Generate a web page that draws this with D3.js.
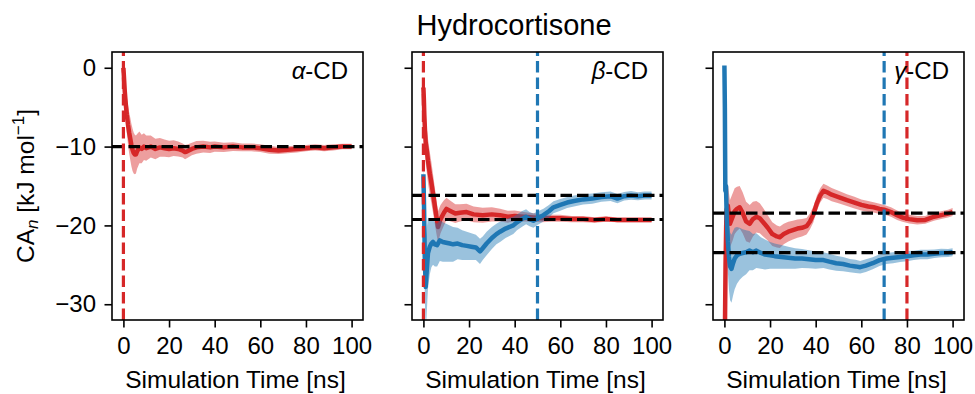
<!DOCTYPE html>
<html>
<head>
<meta charset="utf-8">
<script src="https://cdn.jsdelivr.net/npm/d3@7"></script>
<style>
  body { margin: 0; background: #fff; }
  text { font-family: "Liberation Sans", Arial, sans-serif; }
</style>
</head>
<body>
<div id="chart"></div>
<script>
// panel names
var panelNames = ["α", "β", "γ"];

// alpha-CD, red series
var aRedT = [0, 0.3, 0.6, 1, 1.5, 2, 2.5, 3, 3.5, 4, 4.5, 5, 5.5, 6, 7, 8, 9, 10, 12, 14, 16, 18, 20, 22, 24, 26, 27, 28, 30, 32, 35, 38, 40, 44, 48, 52, 56, 60, 64, 68, 72, 76, 80, 84, 88, 92, 96, 100];
var aRedV = [0, -1.5, -3, -4.5, -6, -7.2, -8.2, -9, -9.8, -10.4, -10.8, -11, -11, -10.6, -10.1, -10.3, -10, -10.2, -10, -10.3, -10.1, -10.2, -10.3, -10.2, -10.3, -10.5, -10.7, -10.6, -10.3, -10.1, -10, -10.1, -10, -10.1, -10, -10.1, -10.1, -10.2, -10.4, -10.5, -10.4, -10.3, -10.2, -10.1, -10.2, -10.1, -10, -10];
var aRedE = [0.5, 1, 1.5, 2, 2.3, 2.5, 2.6, 2.7, 2.7, 2.7, 2.6, 2.5, 2.4, 2.2, 2, 1.8, 1.7, 1.6, 1.4, 1.3, 1.2, 1.1, 1.05, 1, 0.95, 0.9, 0.9, 0.85, 0.8, 0.8, 0.75, 0.7, 0.65, 0.6, 0.55, 0.5, 0.5, 0.5, 0.5, 0.45, 0.45, 0.45, 0.4, 0.4, 0.4, 0.4, 0.35, 0.35];

// beta-CD, red series
var bRedT = [0, 0.2, 0.4, 0.7, 1, 1.5, 2, 2.8, 3.5, 4.5, 5.5, 6.4, 7.5, 9, 10.1, 12, 14, 16, 18.9, 22, 26, 30, 33.6, 37, 40, 44, 48.2, 52, 56, 59.9, 65, 70, 75, 80, 85, 90, 95, 100];
var bRedV = [-2.5, -4, -6, -8, -9.5, -10.5, -11.8, -13.4, -14.6, -16.5, -18.5, -20.2, -19.2, -18.4, -17.9, -18.2, -18.5, -18.4, -18.3, -18.6, -18.7, -18.6, -18.7, -18.9, -18.8, -18.9, -19, -19.1, -19.1, -19.1, -19.2, -19.2, -19.3, -19.2, -19.3, -19.3, -19.3, -19.3];
var bRedE = [1, 1.5, 2, 2.4, 2.6, 2.8, 2.8, 2.7, 2.6, 2.4, 2.2, 2, 1.8, 1.6, 1.4, 1.3, 1.2, 1.1, 1.05, 1, 0.95, 0.9, 0.8, 0.75, 0.7, 0.6, 0.55, 0.5, 0.45, 0.45, 0.4, 0.4, 0.35, 0.35, 0.3, 0.3, 0.3, 0.3];

// beta-CD, blue series
var bBlueT = [0, 0.3, 0.6, 1, 1.4, 2, 2.8, 3.5, 4.2, 5, 6, 7.2, 8.5, 10, 11.6, 13, 15, 17, 19, 21, 23, 24.8, 26, 27.7, 30, 32, 33.6, 36, 39.4, 41, 43.1, 45, 46.5, 48.2, 50, 52.6, 55, 57, 60, 63, 66, 70, 74, 78, 82, 85, 88, 91, 94, 97, 100];
var bBlueV = [-13.5, -18, -24, -27.8, -26, -23.5, -22.7, -22.3, -22.1, -22.4, -22.5, -21.9, -22.1, -22.2, -22.3, -22.4, -22.3, -22.5, -22.6, -22.7, -22.8, -23.3, -22.9, -22.3, -21.6, -21.1, -20.8, -20.4, -20, -19.6, -19.2, -18.9, -19.2, -19.4, -19.1, -18.7, -18.2, -17.7, -17.4, -17.1, -16.9, -16.7, -16.6, -16.4, -16.3, -16.6, -16.3, -16.2, -16.3, -16.2, -16.2];
var bBlueE = [1, 3, 5, 6, 5.5, 4.5, 3.5, 3, 2.9, 2.8, 2.7, 2.6, 2.5, 2.4, 2.3, 2.2, 2, 1.9, 1.8, 1.7, 1.6, 1.6, 1.5, 1.5, 1.4, 1.3, 1.3, 1.2, 1.1, 1, 1, 0.95, 0.9, 0.9, 0.85, 0.8, 0.8, 0.75, 0.75, 0.7, 0.7, 0.65, 0.65, 0.6, 0.6, 0.6, 0.55, 0.55, 0.5, 0.5, 0.5];

// gamma-CD, red series
var gRedT = [0, 0.5, 0.9, 1.5, 2.4, 3.5, 4.5, 5.5, 6.7, 8, 9.5, 11.1, 12.5, 14, 15.5, 17, 19, 21, 23, 24.3, 26, 28, 30, 32, 34, 36, 37.5, 39, 40.5, 42, 43.4, 45, 47, 50, 53.7, 57, 60, 63, 65.4, 68, 70, 73, 75.7, 78, 81, 84.5, 88, 91.8, 95, 98, 100];
var gRedV = [-40, -25, -18, -17.5, -19.8, -19, -18.2, -17.9, -17.7, -18.4, -19.5, -19.8, -19.2, -18.9, -19.1, -19.6, -20.3, -21.1, -21.4, -21.5, -21.1, -20.8, -20.6, -20.4, -20.3, -20.1, -19.5, -18.6, -17.2, -16.2, -15.6, -15.8, -16.1, -16.4, -16.8, -17.1, -17.4, -17.6, -17.7, -17.9, -18, -18.3, -18.7, -19, -19.2, -19.35, -19.3, -18.9, -18.7, -18.5, -18.3];
var gRedE = [1, 2, 2.5, 2.8, 3, 3, 2.9, 2.8, 2.7, 2.6, 2.5, 2.4, 2.2, 2, 1.9, 1.8, 1.6, 1.5, 1.4, 1.35, 1.3, 1.25, 1.2, 1.15, 1.1, 1.05, 1, 1, 0.95, 0.9, 0.9, 0.85, 0.85, 0.8, 0.75, 0.75, 0.7, 0.7, 0.65, 0.65, 0.6, 0.6, 0.6, 0.55, 0.55, 0.55, 0.5, 0.5, 0.5, 0.5, 0.5];

// gamma-CD, blue series
var gBlueT = [0, 0.2, 0.4, 0.7, 1, 1.5, 2, 2.5, 3.1, 3.8, 4.5, 5.5, 6.7, 8, 9.5, 11, 12.5, 14, 16, 17.8, 20, 22, 25, 28, 31, 34, 37, 40, 43.4, 46, 49, 52, 55, 57.5, 59.5, 62, 65, 68, 71, 74, 77, 80, 83, 86, 89, 92, 95, 98, 100];
var gBlueV = [0.3, -5, -15.6, -15, -19, -22, -24, -25.2, -25.5, -24.8, -24.2, -23.8, -23.6, -23.5, -23.4, -23.2, -23.4, -23.2, -23.5, -23.7, -23.8, -23.9, -24, -24.1, -24.2, -24.2, -24.3, -24.4, -24.4, -24.6, -24.8, -24.9, -25.1, -25.2, -25.3, -25.1, -24.8, -24.4, -24.2, -24.1, -24, -23.9, -23.8, -23.7, -23.7, -23.6, -23.5, -23.5, -23.4];
var gBlueE = [0.5, 1, 1.5, 2, 3, 3.8, 4.2, 4.3, 4.3, 4.1, 3.9, 3.6, 3.3, 3, 2.8, 2.5, 2.3, 2.2, 2, 1.9, 1.7, 1.6, 1.5, 1.4, 1.3, 1.2, 1.15, 1.1, 1, 1, 0.95, 0.9, 0.85, 0.85, 0.8, 0.8, 0.75, 0.75, 0.7, 0.7, 0.65, 0.65, 0.6, 0.6, 0.6, 0.55, 0.55, 0.5, 0.5];

// reference lines (black dashed) and marked times (coloured dashed)
var aRefY = [-10], bRefY = [-16.2, -19.25], gRefY = [-18.45, -23.45];
var aMarkT = [0], aMarkC = ["red"];
var bMarkT = [0, 50], bMarkC = ["red", "blue"];
var gMarkT = [70, 80], gMarkC = ["blue", "red"];

var xTicks = [0, 20, 40, 60, 80, 100];
var yTicks = [0, -10, -20, -30];

var colors = { red: "#d62728", blue: "#1f77b4" };

function zip(t, v, e) {
    return t.map((d, i) => ({ t: d, v: v[i], e: e[i] }));
}

var panels = [
    { series: [["red", zip(aRedT, aRedV, aRedE)]], refs: aRefY, marks: aMarkT, markC: aMarkC },
    { series: [["red", zip(bRedT, bRedV, bRedE)], ["blue", zip(bBlueT, bBlueV, bBlueE)]], refs: bRefY, marks: bMarkT, markC: bMarkC },
    { series: [["red", zip(gRedT, gRedV, gRedE)], ["blue", zip(gBlueT, gBlueV, gBlueE)]], refs: gRefY, marks: gMarkT, markC: gMarkC }
];

var W = 975, H = 394;
var panelLeft = [112, 412, 713];
var pw = 251, plotTop = 52, ph = 268;

var svg = d3.select("#chart").append("svg")
    .attr("width", W)
    .attr("height", H);

var x = d3.scaleLinear().domain([-5, 105]).range([0, pw]);
var y = d3.scaleLinear().domain([-32, 2]).range([ph, 0]);

var area = d3.area()
    .x(d => x(d.t))
    .y0(d => y(d.v - d.e))
    .y1(d => y(d.v + d.e));
var line = d3.line()
    .x(d => x(d.t))
    .y(d => y(d.v));

var minus = d => d < 0 ? "\u2212" + Math.abs(d) : String(d);

panels.forEach(function(p, i) {
    var g = svg.append("g").attr("transform", "translate(" + panelLeft[i] + "," + plotTop + ")");

    g.append("clipPath").attr("id", "clip" + i)
        .append("rect").attr("width", pw).attr("height", ph);
    var plot = g.append("g").attr("clip-path", "url(#clip" + i + ")");

    p.series.forEach(function(s) {
        plot.append("path").datum(s[1])
            .attr("d", area)
            .attr("fill", colors[s[0]])
            .attr("fill-opacity", 0.45);
        plot.append("path").datum(s[1])
            .attr("d", line)
            .attr("fill", "none")
            .attr("stroke", colors[s[0]])
            .attr("stroke-width", 4.5)
            .attr("stroke-linejoin", "round");
    });

    // axhline style refs
    p.refs.forEach(function(r) {
        plot.append("line")
            .attr("x1", 0).attr("x2", pw)
            .attr("y1", y(r)).attr("y2", y(r))
            .attr("stroke", "#000")
            .attr("stroke-width", 3.2)
            .attr("stroke-dasharray", "11.5,5");
    });
    // axvline marks, drawn bottom to top
    p.marks.forEach(function(m, j) {
        plot.append("line")
            .attr("x1", x(m)).attr("x2", x(m))
            .attr("y1", ph).attr("y2", 0)
            .attr("stroke", colors[p.markC[j]])
            .attr("stroke-width", 3.2)
            .attr("stroke-dasharray", "11.5,5");
    });

    var xa = g.append("g").attr("transform", "translate(0," + ph + ")")
        .call(d3.axisBottom(x).tickValues(xTicks).tickSize(7.5).tickPadding(9));
    var ya = g.append("g")
        .call(d3.axisLeft(y).tickValues(yTicks).tickSize(7.5).tickPadding(8.5)
            .tickFormat(i === 0 ? minus : ""));
    [xa, ya].forEach(function(a) {
        a.select(".domain").remove();
        a.selectAll(".tick line").attr("stroke", "#000").attr("stroke-width", 1.6);
        a.selectAll("text").attr("font-size", 24).attr("fill", "#000")
            .attr("font-family", "Liberation Sans, Arial, sans-serif");
    });

    g.append("rect")
        .attr("width", pw).attr("height", ph)
        .attr("fill", "none")
        .attr("stroke", "#000")
        .attr("stroke-width", 1.6);

    var lab = g.append("text")
        .attr("x", pw - 15).attr("y", 27)
        .attr("text-anchor", "end")
        .attr("font-size", 24);
    lab.append("tspan").attr("font-style", "italic").text(panelNames[i]);
    lab.append("tspan").text("-CD");

    g.append("text")
        .attr("x", pw / 2 - 2).attr("y", 336)
        .attr("text-anchor", "middle")
        .attr("font-size", 24.5)
        .text("Simulation Time [ns]");
});

// y label
var yl = svg.append("text")
    .attr("transform", "translate(34," + (plotTop + ph / 2) + ") rotate(-90)")
    .attr("text-anchor", "middle")
    .attr("font-size", 24.5);
yl.append("tspan").text("CA");
yl.append("tspan").attr("font-style", "italic").attr("font-size", 17).attr("dy", 4).text("n");
yl.append("tspan").attr("dy", -4).text(" [kJ mol");
yl.append("tspan").attr("font-size", 17).attr("dy", -10).text("\u22121");
yl.append("tspan").attr("dy", 10).text("]");

svg.append("text")
    .attr("x", 514).attr("y", 35)
    .attr("text-anchor", "middle")
    .attr("font-size", 29)
    .text("Hydrocortisone");
</script>
</body>
</html>
